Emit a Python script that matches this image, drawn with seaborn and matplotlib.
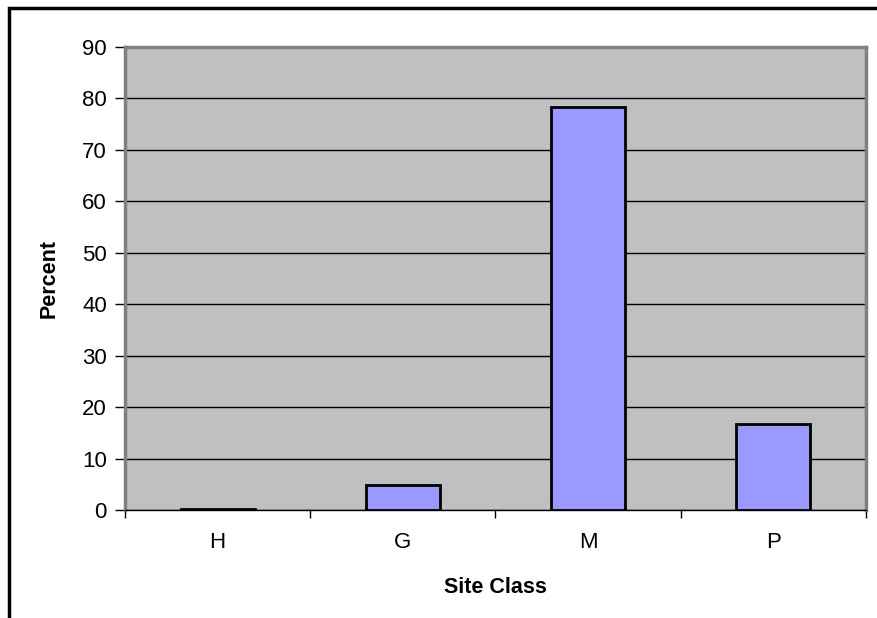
import matplotlib
matplotlib.use("Agg")
import matplotlib.pyplot as plt
import seaborn as sns
import pandas as pd
from matplotlib.patches import Rectangle
from matplotlib.ticker import FixedLocator

# Site class distribution
site_classes = ["H", "G", "M", "P"]
percent_values = [0.2, 4.9, 78.3, 16.7]
y_ticks = [0, 10, 20, 30, 40, 50, 60, 70, 80, 90]

df = pd.DataFrame({"Site Class": site_classes, "Percent": percent_values})

sns.set_theme(style="white")
plt.rcParams["font.family"] = ["Liberation Sans", "DejaVu Sans"]
plt.rcParams["text.color"] = "black"
plt.rcParams["axes.labelcolor"] = "black"
plt.rcParams["xtick.color"] = "black"
plt.rcParams["ytick.color"] = "black"

W, H = 878, 618
fig = plt.figure(figsize=(W / 100, H / 100), dpi=100)
ax = fig.add_axes([125 / W, (H - 510) / H, (866 - 125) / W, (510 - 47) / H])

ax.set_facecolor("#C0C0C0")
sns.barplot(data=df, x="Site Class", y="Percent", color="#9999FF",
            saturation=1, width=0.4, edgecolor="black", linewidth=2,
            ax=ax, zorder=3)

ax.set_ylim(0, 90)
ax.set_xlim(-0.5, 3.5)
ax.set_yticks(y_ticks)
ax.grid(axis="y", color="black", linewidth=1, zorder=1)
ax.grid(axis="x", visible=False)

# category separators on the x axis
ax.xaxis.set_minor_locator(FixedLocator([-0.5, 0.5, 1.5, 2.5, 3.5]))
ax.tick_params(axis="x", which="major", length=0, labelsize=16, pad=16)
ax.tick_params(axis="x", which="minor", length=6, width=1, color="black",
               direction="out", bottom=True)
ax.tick_params(axis="y", length=7, width=1, color="black", direction="out",
               left=True, labelsize=16, pad=6)

for side in ["left", "top", "right"]:
    ax.spines[side].set_color("#808080")
    ax.spines[side].set_linewidth(2.5)
ax.spines["bottom"].set_color("black")
ax.spines["bottom"].set_linewidth(1)

ax.set_xlabel("Site Class", fontsize=15.5, fontweight="bold", labelpad=17)
ax.set_ylabel("Percent", fontsize=15.5, fontweight="bold", labelpad=16)

# chart frame
fig.patches.append(Rectangle((9 / W, -0.2), 1.2, 1.2 - 8 / H,
                             transform=fig.transFigure, fill=False,
                             edgecolor="black", linewidth=2.5))

fig.savefig("out.png", dpi=100, facecolor="white")
